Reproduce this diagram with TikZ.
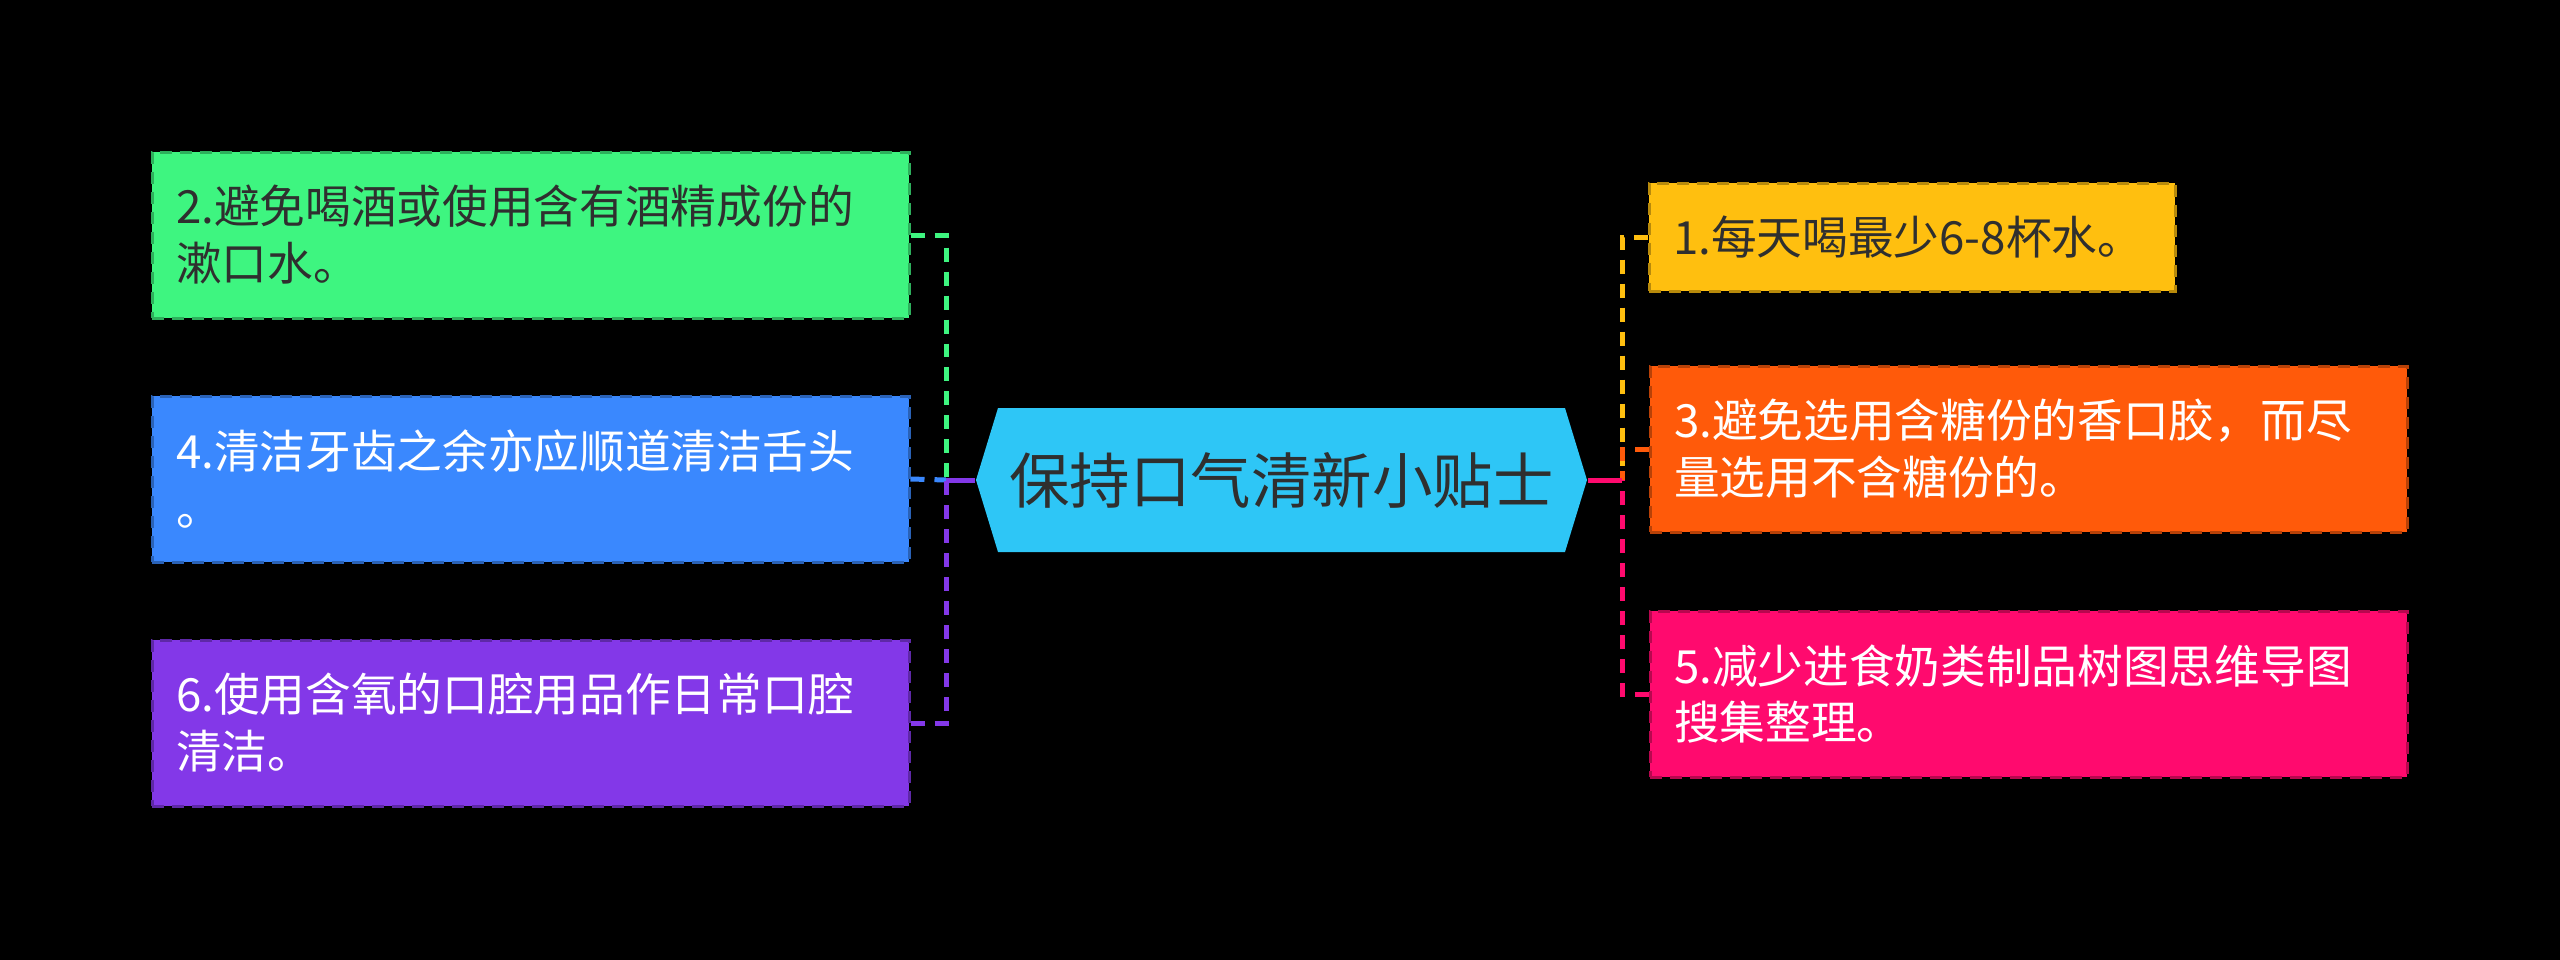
\documentclass[tikz,border=0pt]{standalone}
\usepackage{fontspec}
\setmainfont{Noto Sans CJK SC}
\usepackage{xcolor}
\usepackage{tikz}
\usetikzlibrary{shapes.symbols}
\definecolor{tipgreen}{HTML}{3EF580}
\definecolor{tipblue}{HTML}{3A88FE}
\definecolor{tippurple}{HTML}{8338E8}
\definecolor{tipyellow}{HTML}{FFBF0F}
\definecolor{tiporange}{HTML}{FF5A0A}
\definecolor{tippink}{HTML}{FF0A6E}
\definecolor{hubcyan}{HTML}{2EC6F6}
\definecolor{darktext}{HTML}{2F2F2F}
\tikzset{
  tipbox/.style={rectangle,fill=#1,draw=#1!72!black,dashed,dash pattern=on 1.2mm off 0.8mm,line width=0.3mm,minimum width=75.7mm,minimum height=16.6mm,text width=70.9mm,inner xsep=2.4mm,inner ysep=0mm,align=left,font=\fontsize{13pt}{16.2pt}\selectfont},
  hubnode/.style={signal,signal to=west and east,signal pointer angle=146,fill=hubcyan,text=darktext,minimum width=61.1mm,minimum height=14.4mm,inner sep=0mm,font=\fontsize{17.2pt}{20pt}\selectfont},
  tiplink/.style={draw=#1,line width=0.5mm,dash pattern=on 1.4mm off 1.0mm},
  tipstem/.style={draw=#1,line width=0.5mm}
}
\begin{document}
\begin{tikzpicture}[x=0.1mm,y=-0.1mm]
  \fill[black] (0,0) rectangle (2560,960);
  % central topic
  \node[hubnode] (hub) at (1281.5,480) {保持口气清新小贴士};
  % left tips
  \node[tipbox=tipgreen,text=darktext] (tip2) at (530.5,235) {2.避免喝酒或使用含有酒精成份的\\漱口水。};
  \node[tipbox=tipblue,text=white] (tip4) at (530.5,479) {4.清洁牙齿之余亦应顺道清洁舌头\\。};
  \node[tipbox=tippurple,text=white] (tip6) at (530.5,723) {6.使用含氧的口腔用品作日常口腔\\清洁。};
  % right tips
  \node[tipbox=tipyellow,text=darktext,minimum width=52.6mm,minimum height=10.8mm,text width=47.8mm] (tip1) at (1912,237) {1.每天喝最少6-8杯水。};
  \node[tipbox=tiporange,text=white] (tip3) at (2028.5,449) {3.避免选用含糖份的香口胶，而尽\\量选用不含糖份的。};
  \node[tipbox=tippink,text=white] (tip5) at (2028.5,694) {5.减少进食奶类制品树图思维导图\\搜集整理。};
  \coordinate (ltrunk) at (946,480);
  \coordinate (rtrunk) at (1622,480);
  \draw[tiplink=tipgreen] (tip2.east) -| (ltrunk);
  \draw[tiplink=tipblue] (tip4.east) -- (ltrunk);
  \draw[tiplink=tippurple] (tip6.east) -| (ltrunk);
  \draw[tipstem=tippurple] (ltrunk) -- (hub.west);
  \draw[tiplink=tipyellow] (tip1.west) -| (rtrunk);
  \draw[tiplink=tiporange] (tip3.west) -| (rtrunk);
  \draw[tiplink=tippink] (tip5.west) -| (rtrunk);
  \draw[tipstem=tippink] (rtrunk) -- (hub.east);
\end{tikzpicture}
\end{document}
